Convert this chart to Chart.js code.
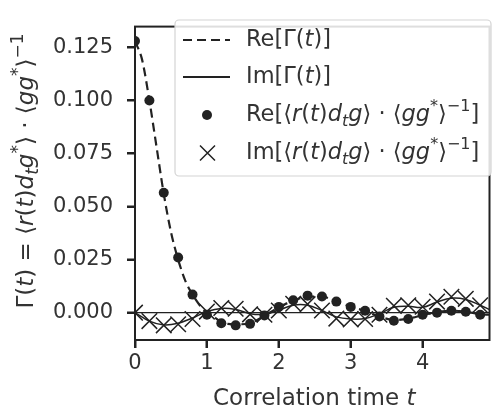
<!DOCTYPE html>
<html>
<head>
<meta charset="utf-8">
<script src="https://cdn.jsdelivr.net/npm/chart.js@4.4.1/dist/chart.umd.min.js"></script>
<style>
  html, body { margin: 0; padding: 0; background: #fff; }
  #wrap { width: 502px; height: 412px; }
</style>
</head>
<body>
<div id="wrap"><canvas id="c" width="502" height="412"></canvas></div>
<script>
// === data ===
const sampleT = [0, 0.2, 0.4, 0.6, 0.8, 1.0, 1.2, 1.4, 1.6, 1.8, 2.0, 2.2, 2.4, 2.6, 2.8, 3.0, 3.2, 3.4, 3.6, 3.8, 4.0, 4.2, 4.4, 4.6, 4.8];
const reMeasured = [0.128, 0.100, 0.0565, 0.026, 0.0085, -0.001, -0.005, -0.006, -0.0053, -0.0013, 0.0027, 0.0058, 0.008, 0.0076, 0.0052, 0.0027, 0.0009, -0.0018, -0.0038, -0.003, -0.001, 0.0, 0.0009, 0.0004, -0.001];
const imMeasured = [0, -0.004, -0.006, -0.0055, -0.003, 0.0005, 0.0022, 0.0018, -0.0008, -0.001, 0.001, 0.0042, 0.004, 0.001, -0.0028, -0.0032, -0.003, -0.001, 0.0032, 0.0035, 0.0028, 0.0052, 0.0075, 0.0065, 0.0035];

const modelReT = [0, 0.1, 0.2, 0.3, 0.4, 0.5, 0.6, 0.7, 0.8, 0.9, 1.0, 1.1, 1.2, 1.4, 1.6, 1.8, 2.0, 2.2, 2.4, 2.6, 2.8, 3.0, 3.2, 3.4, 3.6, 3.8, 4.0, 4.2, 4.4, 4.6, 4.8, 4.93];
const modelRe = [0.128, 0.119, 0.100, 0.078, 0.056, 0.038, 0.025, 0.015, 0.0085, 0.0035, 0.0, -0.002, -0.0045, -0.0055, -0.005, -0.0015, 0.0025, 0.0055, 0.0075, 0.0075, 0.0052, 0.0027, 0.0008, -0.0018, -0.0035, -0.0028, -0.0012, 0.0003, 0.0009, 0.0005, -0.0008, -0.001];
const modelImT = [0, 0.2, 0.4, 0.6, 0.8, 1.0, 1.2, 1.4, 1.6, 1.8, 2.0, 2.2, 2.4, 2.6, 2.8, 3.0, 3.2, 3.4, 3.6, 3.8, 4.0, 4.2, 4.4, 4.6, 4.8, 4.93];
const modelIm = [0, -0.004, -0.0058, -0.005, -0.0025, 0.0005, 0.002, 0.0015, -0.0005, -0.0008, 0.0012, 0.0035, 0.0035, 0.001, -0.002, -0.003, -0.0028, -0.0005, 0.0025, 0.003, 0.0025, 0.005, 0.0068, 0.0062, 0.0035, 0.0015];

const xTicks = [0, 1, 2, 3, 4];
const yTicks = [0, 0.025, 0.05, 0.075, 0.1, 0.125];
const xRange = [0, 4.93];
const yRange = [-0.0129, 0.1348];

const FONT = '"DejaVu Sans", sans-serif';
const INK = '#222';
const TXT = '#333';

// rich text pieces: [text, style]  style: '' | 'i' | 'sub' | 'sup'
const legendItems = [
  { kind: 'dash', label: [['Re[Γ(', ''], ['t', 'i'], [')]', '']] },
  { kind: 'line', label: [['Im[Γ(', ''], ['t', 'i'], [')]', '']] },
  { kind: 'dot', label: [['Re[⟨', ''], ['r', 'i'], ['(', ''], ['t', 'i'], [')', ''], ['d', 'i'], ['t', 'sub'], ['g', 'i'], ['⟩ · ⟨', ''], ['gg', 'i'], ['*', 'sup'], ['⟩', ''], ['−1', 'sup'], [']', '']] },
  { kind: 'cross', label: [['Im[⟨', ''], ['r', 'i'], ['(', ''], ['t', 'i'], [')', ''], ['d', 'i'], ['t', 'sub'], ['g', 'i'], ['⟩ · ⟨', ''], ['gg', 'i'], ['*', 'sup'], ['⟩', ''], ['−1', 'sup'], [']', '']] }
];
const yTitle = [['Γ(', ''], ['t', 'i'], [') = ⟨', ''], ['r', 'i'], ['(', ''], ['t', 'i'], [')', ''], ['d', 'i'], ['t', 'sub'], ['g', 'i'], ['*', 'sup'], ['⟩ · ⟨', ''], ['gg', 'i'], ['*', 'sup'], ['⟩', ''], ['−1', 'sup']];
const xTitle = [['Correlation time ', ''], ['t', 'i']];

function pts(xs, ys) {
  return xs.map((x, i) => ({ x: x, y: ys[i] }));
}

function pieceFont(style, size) {
  if (style === 'i') return 'italic ' + size + 'px ' + FONT;
  if (style === 'sub') return 'italic ' + Math.round(size * 0.72) + 'px ' + FONT;
  if (style === 'sup') return Math.round(size * 0.72) + 'px ' + FONT;
  return size + 'px ' + FONT;
}

function richWidth(ctx, parts, size) {
  let w = 0;
  parts.forEach(p => { ctx.font = pieceFont(p[1], size); w += ctx.measureText(p[0]).width; });
  return w;
}

// draws rich text with its left edge at x (or centred), vertical middle at y
function drawRich(ctx, parts, x, y, size, center) {
  let cx = center ? x - richWidth(ctx, parts, size) / 2 : x;
  ctx.textBaseline = 'middle';
  ctx.textAlign = 'left';
  parts.forEach(p => {
    ctx.font = pieceFont(p[1], size);
    let dy = 0;
    if (p[1] === 'sub') dy = size * 0.3;
    if (p[1] === 'sup') dy = -size * 0.35;
    ctx.fillText(p[0], cx, y + dy);
    cx += ctx.measureText(p[0]).width;
  });
}

const decorations = {
  id: 'decorations',
  afterDraw(chart) {
    const ctx = chart.ctx;
    const a = chart.chartArea;
    const xs = chart.scales.x, ys = chart.scales.y;
    ctx.save();
    // frame
    ctx.strokeStyle = INK;
    ctx.lineWidth = 2;
    ctx.strokeRect(a.left, a.top, a.right - a.left, a.bottom - a.top);

    // outward tick marks
    ctx.beginPath();
    ctx.lineWidth = 2;
    ctx.strokeStyle = INK;
    xTicks.forEach(v => {
      const px = Math.round(xs.getPixelForValue(v));
      ctx.moveTo(px, a.bottom);
      ctx.lineTo(px, a.bottom + 8);
    });
    yTicks.forEach(v => {
      const py = Math.round(ys.getPixelForValue(v));
      ctx.moveTo(a.left, py);
      ctx.lineTo(a.left - 8, py);
    });
    ctx.stroke();

    // legend box
    const bx = 175, by = 20, bw = 316, bh = 156;
    ctx.beginPath();
    ctx.roundRect(bx, by, bw, bh, 4);
    ctx.fillStyle = 'rgba(255,255,255,0.85)';
    ctx.fill();
    ctx.strokeStyle = '#d4d4d4';
    ctx.lineWidth = 1.2;
    ctx.stroke();

    const rows = [40, 77, 115, 153];
    legendItems.forEach((item, i) => {
      const y = rows[i];
      ctx.strokeStyle = INK;
      ctx.fillStyle = INK;
      if (item.kind === 'dash' || item.kind === 'line') {
        ctx.beginPath();
        ctx.lineWidth = item.kind === 'dash' ? 2.2 : 1.8;
        ctx.setLineDash(item.kind === 'dash' ? [9, 5] : []);
        ctx.moveTo(183, y);
        ctx.lineTo(230, y);
        ctx.stroke();
        ctx.setLineDash([]);
      } else if (item.kind === 'dot') {
        ctx.beginPath();
        ctx.arc(207, y, 5, 0, Math.PI * 2);
        ctx.fill();
      } else {
        ctx.beginPath();
        ctx.lineWidth = 1.5;
        ctx.moveTo(200, y - 7.5); ctx.lineTo(215, y + 7.5);
        ctx.moveTo(200, y + 7.5); ctx.lineTo(215, y - 7.5);
        ctx.stroke();
      }
      ctx.fillStyle = TXT;
      drawRich(ctx, item.label, 246, y, 22.5, false);
    });

    // axis titles
    ctx.fillStyle = TXT;
    drawRich(ctx, xTitle, (a.left + a.right) / 2 + 2, 399, 23, true);
    ctx.translate(27, 171);
    ctx.rotate(-Math.PI / 2);
    drawRich(ctx, yTitle, 0, 0, 23, true);
    ctx.restore();
  }
};

const chart = new Chart(document.getElementById('c'), {
  type: 'scatter',
  data: {
    datasets: [
      {
        label: 'zero',
        data: pts(xRange, [0, 0]),
        showLine: true,
        borderColor: INK,
        borderWidth: 1.3,
        pointRadius: 0,
        clip: 0
      },
      {
        label: 'Re[Γ(t)]',
        data: pts(modelReT, modelRe),
        showLine: true,
        borderColor: INK,
        borderWidth: 2.2,
        borderDash: [9, 5],
        tension: 0.4,
        cubicInterpolationMode: 'monotone',
        pointRadius: 0,
        clip: 0
      },
      {
        label: 'Im[Γ(t)]',
        data: pts(modelImT, modelIm),
        showLine: true,
        borderColor: INK,
        borderWidth: 1.5,
        tension: 0.4,
        pointRadius: 0,
        clip: 0
      },
      {
        label: 'Re measured',
        data: pts(sampleT, reMeasured),
        pointStyle: 'circle',
        pointRadius: 5,
        backgroundColor: INK,
        borderColor: INK,
        borderWidth: 0,
        clip: 0
      },
      {
        label: 'Im measured',
        data: pts(sampleT, imMeasured),
        pointStyle: 'crossRot',
        pointRadius: 11,
        borderColor: INK,
        borderWidth: 1.5,
        backgroundColor: 'transparent',
        clip: 0
      }
    ]
  },
  options: {
    responsive: false,
    animation: false,
    events: [],
    layout: { padding: { top: 8, right: 2, left: 0, bottom: 0 } },
    plugins: {
      legend: { display: false },
      tooltip: { enabled: false }
    },
    scales: {
      x: {
        type: 'linear',
        min: xRange[0],
        max: xRange[1],
        afterBuildTicks: s => { s.ticks = xTicks.map(v => ({ value: v })); },
        afterFit: s => { s.height = 72; },
        grid: { display: true, drawOnChartArea: false, drawTicks: true, tickLength: 8, tickColor: INK, tickWidth: 2 },
        border: { display: false },
        ticks: { color: TXT, font: { family: FONT, size: 21 }, padding: 3, maxRotation: 0 }
      },
      y: {
        type: 'linear',
        min: yRange[0],
        max: yRange[1],
        afterBuildTicks: s => { s.ticks = yTicks.map(v => ({ value: v })); },
        afterFit: s => { s.width = 135; },
        grid: { display: true, drawOnChartArea: false, drawTicks: true, tickLength: 8, tickColor: INK, tickWidth: 2 },
        border: { display: false },
        ticks: { color: TXT, font: { family: FONT, size: 21 }, padding: 14, callback: v => v.toFixed(3) }
      }
    }
  },
  plugins: [decorations]
});
</script>
</body>
</html>
